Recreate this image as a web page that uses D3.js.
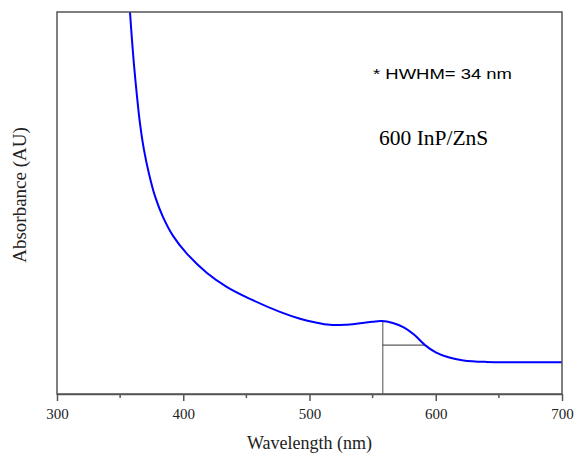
<!DOCTYPE html>
<html><head><meta charset="utf-8">
<script src="https://cdn.jsdelivr.net/npm/d3@7"></script>
<style>body{margin:0;background:#fff}</style>
</head><body>
<svg id="chart" width="576" height="454"></svg>
<script>
const wavelength = [356.6, 357.8, 359.4, 361.0, 363.4, 365.7, 368.9, 372.9, 377.6, 384.0, 391.9, 403.0, 418.8, 434.7, 452.9, 476.6, 492.5, 505, 516, 528, 540, 550, 557, 566, 575, 583, 591.5, 600, 610, 622, 640, 660, 680, 700];
const absorbance = [1.058, 1.0, 0.927, 0.861, 0.778, 0.709, 0.639, 0.576, 0.518, 0.463, 0.414, 0.367, 0.317, 0.280, 0.249, 0.215, 0.197, 0.187, 0.181, 0.181, 0.185, 0.189, 0.191, 0.186, 0.174, 0.155, 0.128, 0.109, 0.096, 0.088, 0.084, 0.083, 0.083, 0.083];
const xTicks = [300, 400, 500, 600, 700];
const xMinorTicks = [350, 450, 550, 650];
const peakWl = 558, peakAbs = 0.191, halfWl = 591.5, halfAbs = 0.128;
const hwhmLabel = "* HWHM= 34 nm";
const sampleLabel = "600 InP/ZnS";

const svg = d3.select("#chart");
const L = 57, R = 562, T = 12, B = 394;
const x = d3.scaleLinear().domain([300, 700]).range([L, R]);
const y = d3.scaleLinear().domain([0, 1]).range([B, T]);
const serif = "'Liberation Serif', 'Times New Roman', serif";
const axisColor = "#555";

svg.append("defs").append("clipPath").attr("id", "clip")
  .append("rect").attr("x", L).attr("y", T).attr("width", R - L).attr("height", B - T);

// HWHM marker lines
svg.append("line").attr("x1", x(peakWl)).attr("x2", x(peakWl))
  .attr("y1", y(peakAbs)).attr("y2", B).attr("stroke", "#888").attr("stroke-width", 1.5);
svg.append("line").attr("x1", x(peakWl)).attr("x2", x(halfWl))
  .attr("y1", y(halfAbs)).attr("y2", y(halfAbs)).attr("stroke", "#333").attr("stroke-width", 1);

// curve
const data = wavelength.map((w, i) => [w, absorbance[i]]);
svg.append("path").datum(data).attr("clip-path", "url(#clip)")
  .attr("fill", "none").attr("stroke", "#0000ff").attr("stroke-width", 2)
  .attr("d", d3.line().x(d => x(d[0])).y(d => y(d[1])).curve(d3.curveCatmullRom.alpha(0.5)));

// frame
svg.append("rect").attr("x", L).attr("y", T).attr("width", R - L).attr("height", B - T)
  .attr("fill", "none").attr("stroke", axisColor).attr("stroke-width", 1.5);

// bottom axis, outward ticks
const ax = svg.append("g").attr("transform", `translate(0,${B})`)
  .call(d3.axisBottom(x).tickValues(xTicks).tickSizeInner(7).tickSizeOuter(0).tickPadding(7));
ax.attr("font-family", serif).attr("font-size", 15);
ax.select(".domain").attr("stroke", axisColor).attr("stroke-width", 1.5);
ax.selectAll(".tick line").attr("stroke", axisColor).attr("stroke-width", 1.5);
ax.selectAll("text").style("font-family", serif).style("font-size", "15px").attr("fill", "#222");
svg.append("g").selectAll("line").data(xMinorTicks).join("line")
  .attr("x1", d => x(d)).attr("x2", d => x(d)).attr("y1", B).attr("y2", B + 4)
  .attr("stroke", axisColor).attr("stroke-width", 1.5);

// axis titles
svg.append("text").attr("x", (L + R) / 2).attr("y", 449).attr("text-anchor", "middle")
  .style("font-family", serif).attr("font-size", 18).attr("fill", "#222")
  .text("Wavelength (nm)");
svg.append("text").attr("transform", "translate(26,195) rotate(-90)").attr("text-anchor", "middle")
  .style("font-family", serif).attr("font-size", 19).attr("fill", "#222")
  .text("Absorbance (AU)");

// annotations
svg.append("text").attr("x", 373).attr("y", 79)
  .style("font-family", "'Liberation Sans', Arial, sans-serif").attr("font-size", 15.5).attr("fill", "#000")
  .attr("textLength", 139).attr("lengthAdjust", "spacingAndGlyphs")
  .text(hwhmLabel);
svg.append("text").attr("x", 379).attr("y", 145)
  .style("font-family", serif).attr("font-size", 21.5).attr("fill", "#000")
  .text(sampleLabel);
</script>
</body></html>
